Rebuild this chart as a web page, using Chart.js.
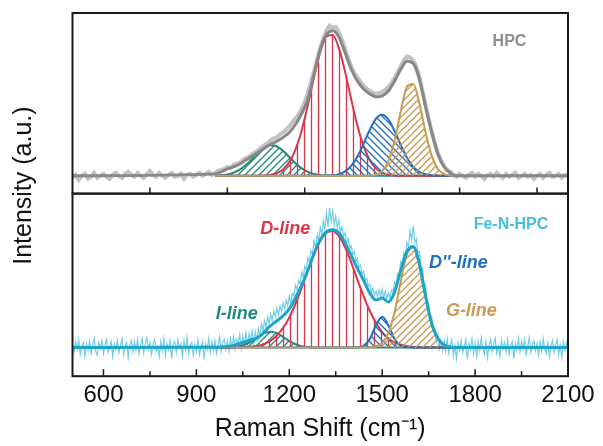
<!DOCTYPE html>
<html>
<head>
<meta charset="utf-8">
<script src="https://cdn.jsdelivr.net/npm/chart.js@4.4.1/dist/chart.umd.min.js"></script>
<style>
  html, body { margin: 0; padding: 0; background: #fff; }
  #wrap { width: 603px; height: 446px; }
</style>
</head>
<body>
<div id="wrap"><canvas id="raman"></canvas></div>
<script>
// raw spectra: HPC every 10 cm-1, Fe-N-HPC every 5 cm-1, both 500..2100
const rawShiftTop = Array.from({ length: 161 }, (_, i) => 500 + i * 10);
const rawShiftBot = Array.from({ length: 321 }, (_, i) => 500 + i * 5);

// fitted peaks share this grid
const fitShift = [960, 980, 1000, 1020, 1040, 1060, 1080, 1100, 1120, 1140,
  1160, 1180, 1200, 1220, 1240, 1260, 1280, 1300, 1320, 1340,
  1360, 1380, 1400, 1420, 1440, 1460, 1480, 1500, 1520, 1540,
  1560, 1580, 1600, 1620, 1640, 1660, 1680, 1700, 1720, 1740];
const envShift = [500, ...fitShift, 2100];

const xTickShift = [600, 900, 1200, 1500, 1800, 2100];
const xMinorShift = [750, 1050, 1350, 1650, 1950];
const topTickShift = [750, 1000, 1250, 1500, 1750, 2000];

// ---- HPC (top panel) ----
const rawTop = [
  -2, 1, -4, 0, 2, -3, -1, 3, -2, 0,
  2, -1, -3, 1, 3, 0, -2, 2, 4, 1,
  -1, 3, 0, -2, 2, 5, 1, -1, 3, 0,
  -2, 1, 3, -1, 0, 2, -3, 1, 2, -1,
  1, 3, 0, 2, 4, 1, 3, 5, 6, 7,
  9, 8, 11, 12, 13, 16, 18, 19, 22, 24,
  26, 29, 31, 33, 36, 38, 39, 42, 44, 47,
  50, 54, 58, 62, 68, 75, 84, 95, 106, 118,
  130, 139, 147, 152, 150, 151, 145, 138, 129, 119,
  111, 104, 100, 95, 91, 88, 86, 84, 83, 84,
  85, 87, 90, 94, 99, 105, 111, 117, 121, 120,
  117, 111, 101, 86, 72, 58, 45, 33, 23, 16,
  10, 6, 4, 1, -1, 2, 0, -2, 1, 3,
  -1, 2, 0, -3, 1, 2, -1, 3, 0, -2,
  2, -1, 1, 3, -2, 0, 2, -1, 1, -3,
  0, 2, -2, 1, 3, -1, 0, 2, -2, 1,
  0];
const envTop = [0,
  2, 4, 7, 9, 12, 16, 20, 24, 28, 32,
  35, 39, 44, 52, 63, 78, 103, 128, 143, 147,
  141, 125, 108, 96, 88, 83, 80, 81, 86, 96,
  108, 116, 114, 98, 70, 44, 22, 9, 3, 0,
  0];
const iLineTop = [0.2, 0.6, 1.5, 3.3, 6.4, 11.1, 17.2, 23.6, 28.6, 31,
  29.7, 25.3, 19.1, 12.8, 7.6, 4.1, 1.9, 0.8, 0.3, 0,
  0, 0, 0, 0, 0, 0, 0, 0, 0, 0,
  0, 0, 0, 0, 0, 0, 0, 0, 0, 0];
const dLineTop = [0, 0, 0, 0, 0, 0, 0, 0, 0.3, 1.0,
  2.7, 6.5, 13.9, 26.5, 46, 71.7, 100, 125.5, 141.2, 142.8,
  129.6, 105.7, 77.4, 50.8, 30.1, 15.9, 7.6, 3.3, 1.2, 0.4,
  0, 0, 0, 0, 0, 0, 0, 0, 0, 0];
const ddLineTop = [0, 0, 0, 0, 0, 0, 0, 0, 0, 0,
  0, 0, 0, 0, 0, 0, 0, 0, 0.2, 0.6,
  1.7, 4.5, 10.1, 19.6, 32.6, 46.8, 58, 62, 57.1, 45.4,
  31.2, 18.4, 9.4, 4.1, 1.6, 0.5, 0, 0, 0, 0];
const gLineTop = [0, 0, 0, 0, 0, 0, 0, 0, 0, 0,
  0, 0, 0, 0, 0, 0, 0, 0, 0, 0,
  0, 0, 0, 0, 0, 0.2, 1.1, 4.7, 15, 35.9,
  65.2, 90.5, 93, 73.8, 44.2, 20.2, 6.9, 1.8, 0.4, 0];

// ---- Fe-N-HPC (bottom panel) ----
const rawBot = [
  3, -5, 6, -2, 8, -7, 1, 5, -9, 4,
  -3, 7, -6, 2, 9, -4, -8, 5, -1, 7,
  -6, 3, 8, -5, 0, 6, -9, 4, -2, 7,
  -5, 2, 9, -7, 1, 5, -10, 3, 7, -4,
  6, -3, 8, -6, 2, 9, -5, 4, 10, -2,
  5, -7, 3, 8, -4, 1, -9, 6, -3, 9,
  -8, 4, -2, 7, -11, 3, 6, -5, 8, -1,
  4, -9, 7, -3, 10, -6, 2, 5, -8, 3,
  -4, 8, -7, 1, 6, -12, 4, -2, 9, -5,
  6, -3, 7, -6, 2, 11, -4, 5, 8, -2,
  7, -4, 9, 0, 11, -2, 8, 4, 13, -1, 12, 3, 15, 2, 14, 6, 17, 3, 16, 8,
  19, 12, 24, 17, 27, 20, 31, 24, 34, 27, 37, 31, 40, 33, 42, 36, 45, 39, 48, 42,
  52, 45, 55, 52, 63, 58, 68, 64, 76, 71, 82, 78, 91, 86, 98, 94, 108, 101, 114, 107,
  121, 114, 128, 119, 136, 122, 141, 127, 138, 124, 133, 121, 129, 117, 122, 112, 116, 107, 110, 101,
  103, 94, 97, 87, 90, 81, 83, 75, 77, 68, 70, 62, 64, 56, 60, 53, 57, 51, 58, 52,
  59, 51, 57, 49, 55, 50, 58, 56, 66, 63, 75, 73, 87, 84, 96, 93, 106, 102, 118, 108,
  123, 106, 110, 96, 97, 82, 80, 64, 63, 47, 46, 30, 31, 16, 19, 6, 12, -1, 8, -3,
  7, -4, 9, -6, 3, 8, -8, 2, -11, 5,
  -3, 7, -5, 1, 8, -12, 4, -2, 9, -6,
  5, -9, 6, -3, 10, -1, -7, 6, -10, 2,
  8, -4, 3, 9, -6, 1, -9, 7, -2, 5,
  -5, 8, -7, 2, 6, -11, 4, -3, 9, -4,
  6, -2, 8, -7, 1, 10, -5, 3, 7, -3,
  4, -8, 6, -4, 9, -2, -6, 5, -9, 2,
  7, -5, 3, 8, -7, 2, -10, 6, -3, 5,
  -1];
const envBot = [0,
  0.3, 0.6, 1, 2, 4, 6, 8, 10, 16, 22,
  27, 32, 39, 50, 63, 78, 95, 109, 117, 119,
  116, 106, 93, 80, 68, 55, 48, 50, 46, 56,
  78, 97, 102, 85, 52, 24, 9, 2.5, 0.5, 0,
  0];
const iLineBot = [0, 0, 0.1, 0.4, 1.4, 3.3, 6.6, 10.8, 14.5, 16,
  14.5, 10.8, 6.6, 3.3, 1.4, 0.4, 0.1, 0, 0, 0,
  0, 0, 0, 0, 0, 0, 0, 0, 0, 0,
  0, 0, 0, 0, 0, 0, 0, 0, 0, 0];
const dLineBot = [0, 0, 0, 0.1, 0.2, 0.4, 0.9, 1.9, 3.8, 7.0,
  12.2, 19.8, 30.3, 44.2, 60.2, 77.6, 94.3, 107.7, 116, 117.8,
  112.7, 101.5, 86.1, 68.6, 52, 37.1, 24.7, 15.6, 9.2, 5.2,
  2.8, 1.3, 0.6, 0.3, 0.1, 0, 0, 0, 0, 0];
const ddLineBot = [0, 0, 0, 0, 0, 0, 0, 0, 0, 0,
  0, 0, 0, 0, 0, 0, 0, 0, 0, 0,
  0, 0, 0, 0.2, 1.7, 8.6, 22.5, 31, 22.5, 8.6,
  1.7, 0.2, 0, 0, 0, 0, 0, 0, 0, 0];
const gLineBot = [0, 0, 0, 0, 0, 0, 0, 0, 0, 0,
  0, 0, 0, 0, 0, 0, 0, 0, 0, 0,
  0, 0, 0, 0, 0, 0.2, 1.0, 4.5, 14.6, 35.7,
  66.8, 94.4, 101.1, 82.1, 50.8, 23.7, 8.3, 2.3, 0.5, 0];

const RED = "#dc3449";
const TEAL = "#1f8b7b";
const BLUE = "#1f6fc0";
const GOLD = "#c99a52";
const FONT = "Arial, 'Liberation Sans', sans-serif";

// text placed in data units of the panel it sits in
const notes = [
  { text: "HPC", axis: "yTop", shift: 1911, value: 136, color: "#8e8e8e", style: "bold 16px" },
  { text: "Fe-N-HPC", axis: "yBot", shift: 1916, value: 124, color: "#45bfe0", style: "bold 16px" },
  { text: "D-line", axis: "yBot", shift: 1187, value: 120, color: RED, style: "italic bold 18px" },
  { text: "D''-line", axis: "yBot", shift: 1746, value: 85, color: BLUE, style: "italic bold 18px" },
  { text: "I-line", axis: "yBot", shift: 1030, value: 34, color: TEAL, style: "italic bold 18px" },
  { text: "G-line", axis: "yBot", shift: 1788, value: 37, color: GOLD, style: "italic bold 18px" },
];

function hatch(color, dir) {
  const s = 7;
  const c = document.createElement("canvas");
  c.width = s;
  c.height = s;
  const g = c.getContext("2d");
  g.strokeStyle = color;
  g.lineWidth = 1.3;
  g.beginPath();
  if (dir === "|") {
    g.moveTo(s / 2, 0);
    g.lineTo(s / 2, s);
  } else if (dir === "/") {
    g.moveTo(0, s); g.lineTo(s, 0);
    g.moveTo(-s / 2, s / 2); g.lineTo(s / 2, -s / 2);
    g.moveTo(s / 2, s * 1.5); g.lineTo(s * 1.5, s / 2);
  } else {
    g.moveTo(0, 0); g.lineTo(s, s);
    g.moveTo(-s / 2, s / 2); g.lineTo(s / 2, s * 1.5);
    g.moveTo(s / 2, -s / 2); g.lineTo(s * 1.5, s / 2);
  }
  g.stroke();
  return g.createPattern(c, "repeat");
}

const pts = (xs, ys) => xs.map((x, i) => ({ x: x, y: ys[i] }));

function fitLine(ys, axis, color, width) {
  return {
    data: pts(envShift, ys), yAxisID: axis, borderColor: color, borderWidth: width,
    pointRadius: 0, fill: false, cubicInterpolationMode: "monotone",
  };
}
function peak(ys, axis, color, dir) {
  return {
    data: pts(fitShift, ys), yAxisID: axis, borderColor: color, borderWidth: 2,
    backgroundColor: hatch(color, dir), fill: "origin",
    pointRadius: 0, cubicInterpolationMode: "monotone",
  };
}
function raw(xs, ys, axis, color, width) {
  return {
    data: pts(xs, ys), yAxisID: axis, borderColor: color, borderWidth: width,
    pointRadius: 0, fill: false, tension: 0,
  };
}

const panelFrame = {
  id: "panelFrame",
  afterDatasetsDraw(chart) {
    const { ctx, chartArea, scales } = chart;
    const x = scales.x;
    const top = scales.yTop;
    const bot = scales.yBot;
    ctx.save();
    ctx.strokeStyle = "#1a1a1a";
    ctx.lineWidth = 1.5;
    ctx.beginPath();
    topTickShift.forEach((v) => {
      const px = x.getPixelForValue(v);
      ctx.moveTo(px, top.bottom);
      ctx.lineTo(px, top.bottom - 6);
    });
    xTickShift.forEach((v) => {
      const px = x.getPixelForValue(v);
      ctx.moveTo(px, bot.bottom);
      ctx.lineTo(px, bot.bottom - 7);
    });
    xMinorShift.forEach((v) => {
      const px = x.getPixelForValue(v);
      ctx.moveTo(px, bot.bottom);
      ctx.lineTo(px, bot.bottom - 5);
    });
    ctx.stroke();
    ctx.lineWidth = 2;
    [top, bot].forEach((s) => {
      ctx.strokeRect(chartArea.left, s.top, chartArea.right - chartArea.left, s.bottom - s.top);
    });
    ctx.restore();
  },
  afterDraw(chart) {
    const { ctx, chartArea, scales } = chart;
    ctx.save();
    ctx.textAlign = "center";
    ctx.textBaseline = "middle";
    notes.forEach((n) => {
      ctx.font = n.style + " " + FONT;
      ctx.fillStyle = n.color;
      ctx.fillText(n.text, scales.x.getPixelForValue(n.shift), scales[n.axis].getPixelForValue(n.value));
    });
    // y title spans both panels
    ctx.translate(24, (chartArea.top + chartArea.bottom) / 2 - 9);
    ctx.rotate(-Math.PI / 2);
    ctx.font = "25px " + FONT;
    ctx.fillStyle = "#111";
    ctx.fillText("Intensity (a.u.)", 0, 0);
    ctx.restore();
  },
};

const hiddenY = {
  type: "linear",
  position: "left",
  stack: "panels",
  ticks: { display: false },
  grid: { display: false, drawTicks: false },
  border: { display: false },
};

new Chart(document.getElementById("raman"), {
  type: "line",
  data: {
    datasets: [
      fitLine(envTop, "yTop", "#888888", 3),
      peak(gLineTop, "yTop", GOLD, "/"),
      peak(ddLineTop, "yTop", BLUE, "\\"),
      peak(dLineTop, "yTop", RED, "|"),
      peak(iLineTop, "yTop", TEAL, "/"),
      raw(rawShiftTop, rawTop, "yTop", "#c2c2c2", 4),
      fitLine(envBot, "yBot", "#1ea3c9", 3),
      peak(gLineBot, "yBot", GOLD, "/"),
      peak(ddLineBot, "yBot", BLUE, "\\"),
      peak(dLineBot, "yBot", RED, "|"),
      peak(iLineBot, "yBot", TEAL, "/"),
      raw(rawShiftBot, rawBot, "yBot", "#6fcee7", 1.2),
    ],
  },
  options: {
    responsive: true,
    maintainAspectRatio: false,
    animation: false,
    devicePixelRatio: 1,
    font: { family: FONT },
    layout: { padding: { top: 13, right: 35, bottom: 1.5, left: 72.5 } },
    plugins: { legend: { display: false }, tooltip: { enabled: false } },
    scales: {
      x: {
        type: "linear",
        position: "bottom",
        min: 500,
        max: 2100,
        afterBuildTicks: (axis) => {
          axis.ticks = xTickShift.map((v) => ({ value: v }));
        },
        ticks: {
          color: "#111",
          font: { family: FONT, size: 24 },
          padding: 5,
          maxRotation: 0,
          autoSkip: false,
          callback: (v) => String(v),
        },
        grid: { display: false, drawTicks: false },
        border: { display: false },
        title: {
          display: true,
          text: "Raman Shift (cm⁻¹)",
          color: "#111",
          font: { family: FONT, size: 25, lineHeight: 1.1 },
          padding: { top: 0, bottom: 2 },
        },
      },
      // first stacked axis sits at the bottom
      yBot: { ...hiddenY, stackWeight: 185, min: -29, max: 155.5 },
      yTop: { ...hiddenY, stackWeight: 183, min: -18, max: 165 },
    },
  },
  plugins: [panelFrame],
});
</script>
</body>
</html>
